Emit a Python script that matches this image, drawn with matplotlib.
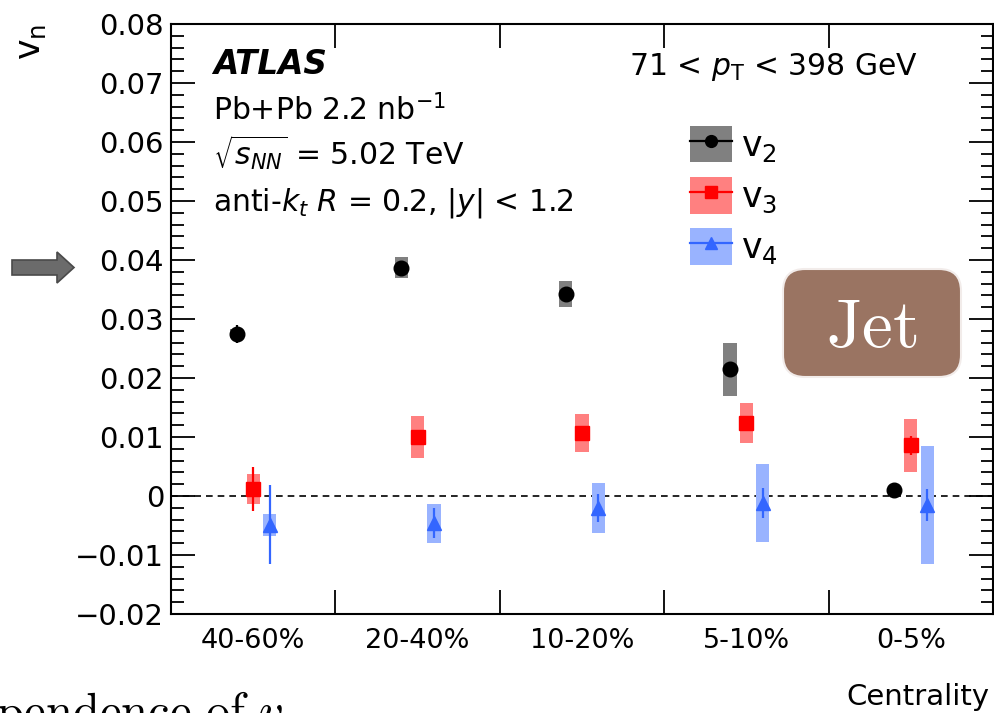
import numpy as np
import matplotlib
matplotlib.use('Agg')
import matplotlib.pyplot as plt
from matplotlib.patches import Patch, FancyBboxPatch, FancyArrow
from matplotlib.lines import Line2D
from matplotlib.ticker import MultipleLocator, FuncFormatter
from matplotlib.transforms import IdentityTransform

plt.rcParams['font.family'] = ['DejaVu Sans']
plt.rcParams['mathtext.fontset'] = 'dejavusans'

# centrality bins and jet v_n values (stat / syst uncertainties)
centrality = ['40-60%', '20-40%', '10-20%', '5-10%', '0-5%']

v2 = [0.0275, 0.0387, 0.0343, 0.0215, 0.0011]
v2_stat = [0.0015, 0.0007, 0.0007, 0.0008, 0.0008]
v2_syst = [0.0008, 0.0018, 0.0022, 0.0045, 0.0004]

v3 = [0.0012, 0.0100, 0.0107, 0.0124, 0.0086]
v3_stat = [0.0037, 0.0008, 0.0008, 0.0009, 0.0016]
v3_syst = [0.0026, 0.0035, 0.0032, 0.0034, 0.0045]

v4 = [-0.0049, -0.0046, -0.0020, -0.0012, -0.0015]
v4_stat = [0.0067, 0.0025, 0.0024, 0.0026, 0.0027]
v4_syst = [0.0019, 0.0033, 0.0042, 0.0066, 0.0100]

W, H = 994, 713


def fx(x):
    return x / W


def fy(y):
    return 1 - y / H


def main():
    fig = plt.figure(figsize=(9.94, 7.13), dpi=100)
    ax = fig.add_axes([fx(171), fy(614), fx(993) - fx(171), fy(24) - fy(614)])

    xc = np.arange(len(centrality))
    series = [
        (v2, v2_stat, v2_syst, -0.1, 'o', 'black', '#808080', r'v$_{2}$'),
        (v3, v3_stat, v3_syst, 0.0, 's', '#ff0000', '#ff8080', r'v$_{3}$'),
        (v4, v4_stat, v4_syst, 0.1, '^', '#3366ff', '#99b3ff', r'v$_{4}$'),
    ]
    handles, labels = [], []
    for vals, stat, syst, off, mk, col, scol, lab in series:
        vals = np.array(vals)
        syst = np.array(syst)
        ax.bar(xc + off, 2 * syst, bottom=vals - syst, width=0.08,
               color=scol, edgecolor='none', zorder=2)
        ax.errorbar(xc + off, vals, yerr=stat, fmt=mk, color=col,
                    markersize=10.5, elinewidth=1.6, capsize=0, zorder=3)
        handles.append((Patch(facecolor=scol, edgecolor='none'),
                        Line2D([], [], color=col, lw=1.6, marker=mk, markersize=8.5)))
        labels.append(lab)

    ax.axhline(0, color='black', lw=1.2, dashes=(4, 3), zorder=1)

    ax.set_xlim(-0.5, 4.5)
    ax.set_ylim(-0.02, 0.08)

    # y axis: ticks on both sides
    ax.yaxis.set_major_locator(MultipleLocator(0.01))
    ax.yaxis.set_minor_locator(MultipleLocator(0.002))
    ax.yaxis.set_major_formatter(FuncFormatter(
        lambda v, p: '0' if abs(v) < 1e-9 else ('%.2f' % v).replace('-', '\u2212')))
    ax.tick_params(axis='y', which='major', direction='in', length=17, width=1.3,
                   right=True, labelsize=21, pad=5)
    ax.tick_params(axis='y', which='minor', direction='in', length=9, width=1.3,
                   right=True)

    # x axis: bin edges as ticks, labels at bin centres
    ax.set_xticks(np.arange(-0.5, 4.6, 1.0))
    ax.set_xticklabels([''] * 6)
    ax.set_xticks(xc, minor=True)
    ax.set_xticklabels(centrality, minor=True)
    ax.tick_params(axis='x', which='major', direction='in', length=17, width=1.3,
                   top=True)
    ax.tick_params(axis='x', which='minor', length=0, labelsize=19.5, pad=10)

    for s in ax.spines.values():
        s.set_linewidth(1.5)

    ax.legend(handles, labels, loc='upper left',
              bbox_to_anchor=(fx(690), fy(126)), bbox_transform=fig.transFigure,
              frameon=False, fontsize=25, handlelength=1.21, handleheight=1.24,
              labelspacing=0.38, handletextpad=0.25, numpoints=1,
              borderpad=0, borderaxespad=0)

    fig.text(fx(213), fy(74), 'ATLAS', fontsize=23.5, fontweight='bold',
             fontstyle='italic', va='baseline')
    fig.text(fx(213), fy(120), r'Pb+Pb 2.2 nb$^{\mathregular{-1}}$', fontsize=21.5,
             va='baseline')
    fig.text(fx(213), fy(166), r'$\sqrt{s_{NN}}$ = 5.02 TeV', fontsize=21.5,
             va='baseline')
    fig.text(fx(213), fy(210), r'anti-$k_{t}$ $R$ = 0.2, |$y$| < 1.2', fontsize=21.5,
             va='baseline')
    fig.text(fx(629), fy(75), r'71 < $p_{\mathrm{T}}$ < 398 GeV', fontsize=21.5,
             va='baseline')

    fig.text(fx(31), fy(24), r'v$_{\mathregular{n}}$', fontsize=25, rotation=90,
             ha='center', va='top')
    fig.text(fx(990), fy(705), 'Centrality', fontsize=21, ha='right', va='baseline')

    # "Jet" tag
    fig.patches.append(FancyBboxPatch((783, H - 377), 178, 108,
                                      boxstyle='round,pad=0,rounding_size=22',
                                      transform=IdentityTransform(),
                                      facecolor='#9a7462', edgecolor='#f2ecea',
                                      lw=1.5, figure=fig))
    fig.text(fx(872), fy(347), r'$\mathrm{Jet}$', fontsize=50, color='white',
             ha='center', va='baseline', math_fontfamily='cm')

    # arrow pointing at 0.04
    fig.patches.append(FancyArrow(12, H - 267.5, 62, 0, width=15, head_width=31,
                                  head_length=17, length_includes_head=True,
                                  transform=IdentityTransform(),
                                  facecolor='#6b6b6b', edgecolor='#4a4a4a',
                                  lw=1.2, figure=fig))

    fig.text(fx(-62), fy(727), r'$\mathrm{Dependence\ of\ }v_n$', fontsize=35,
             ha='left', va='baseline', math_fontfamily='cm')

    fig.savefig('out.png', dpi=100)
    plt.close(fig)


if __name__ == "__main__":
    main()
